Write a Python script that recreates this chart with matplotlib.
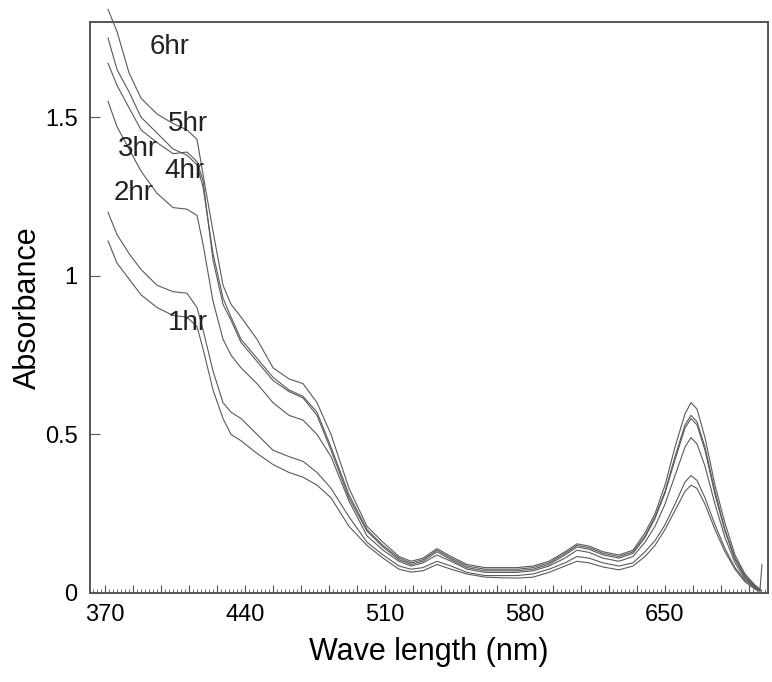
import numpy as np
import matplotlib
matplotlib.use('Agg')
import matplotlib.pyplot as plt
from matplotlib.ticker import FixedLocator, FuncFormatter

plt.rcParams['font.family'] = ['Liberation Sans', 'DejaVu Sans']

# wavelength grid (nm)
wl = [371.5, 376, 382, 388, 396, 404, 411, 416, 419, 424,
      429, 433, 438, 446, 454, 462, 469, 476, 483, 492,
      501, 509, 517, 523, 529, 536, 543, 551, 560, 568,
      576, 584, 592, 600, 606, 612, 619, 627, 634, 640,
      645, 650, 655, 660, 663, 666, 670, 675, 680, 685,
      690, 695, 697.5]

abs_6hr = [1.84, 1.77, 1.64, 1.56, 1.51, 1.48, 1.46, 1.43, 1.32, 1.14,
           0.97, 0.91, 0.87, 0.80, 0.71, 0.675, 0.66, 0.60, 0.50, 0.33,
           0.21, 0.16, 0.115, 0.10, 0.11, 0.14, 0.115, 0.09, 0.08, 0.08,
           0.08, 0.085, 0.10, 0.13, 0.155, 0.148, 0.13, 0.12, 0.135, 0.19,
           0.25, 0.34, 0.46, 0.565, 0.60, 0.58, 0.49, 0.34, 0.22, 0.12,
           0.06, 0.025, 0.012]
abs_5hr = [1.75, 1.65, 1.58, 1.50, 1.45, 1.40, 1.38, 1.35, 1.28, 1.07,
           0.93, 0.87, 0.80, 0.74, 0.68, 0.64, 0.62, 0.57, 0.46, 0.31,
           0.20, 0.15, 0.11, 0.095, 0.105, 0.135, 0.11, 0.085, 0.075, 0.075,
           0.075, 0.08, 0.095, 0.125, 0.15, 0.143, 0.125, 0.115, 0.13, 0.18,
           0.24, 0.32, 0.43, 0.53, 0.56, 0.54, 0.46, 0.32, 0.20, 0.11,
           0.055, 0.022, 0.01]
abs_4hr = [1.67, 1.60, 1.53, 1.46, 1.42, 1.385, 1.39, 1.36, 1.30, 1.05,
           0.91, 0.86, 0.79, 0.73, 0.67, 0.635, 0.615, 0.56, 0.45, 0.30,
           0.195, 0.145, 0.105, 0.09, 0.10, 0.13, 0.105, 0.08, 0.07, 0.07,
           0.07, 0.075, 0.09, 0.12, 0.145, 0.138, 0.12, 0.11, 0.125, 0.175,
           0.235, 0.315, 0.42, 0.52, 0.55, 0.53, 0.45, 0.31, 0.195, 0.105,
           0.05, 0.02, 0.01]
abs_3hr = [1.55, 1.47, 1.40, 1.33, 1.26, 1.215, 1.21, 1.19, 1.10, 0.92,
           0.80, 0.75, 0.71, 0.66, 0.60, 0.56, 0.545, 0.50, 0.43, 0.29,
           0.18, 0.135, 0.10, 0.085, 0.095, 0.12, 0.10, 0.075, 0.065, 0.065,
           0.065, 0.07, 0.085, 0.11, 0.135, 0.128, 0.11, 0.10, 0.115, 0.16,
           0.21, 0.28, 0.37, 0.46, 0.49, 0.47, 0.40, 0.28, 0.175, 0.095,
           0.045, 0.018, 0.008]
abs_2hr = [1.20, 1.13, 1.07, 1.02, 0.97, 0.95, 0.945, 0.90, 0.83, 0.70,
           0.60, 0.57, 0.55, 0.50, 0.45, 0.43, 0.415, 0.38, 0.33, 0.24,
           0.16, 0.12, 0.085, 0.075, 0.08, 0.10, 0.085, 0.065, 0.055, 0.055,
           0.055, 0.06, 0.075, 0.095, 0.115, 0.11, 0.095, 0.085, 0.095, 0.13,
           0.165, 0.215, 0.28, 0.35, 0.37, 0.355, 0.30, 0.215, 0.14, 0.08,
           0.04, 0.015, 0.008]
abs_1hr = [1.11, 1.04, 0.99, 0.94, 0.90, 0.875, 0.87, 0.84, 0.77, 0.64,
           0.55, 0.50, 0.48, 0.44, 0.405, 0.38, 0.365, 0.34, 0.30, 0.21,
           0.15, 0.11, 0.075, 0.066, 0.07, 0.09, 0.075, 0.06, 0.05, 0.048,
           0.047, 0.05, 0.065, 0.085, 0.10, 0.095, 0.082, 0.073, 0.085, 0.115,
           0.15, 0.20, 0.26, 0.32, 0.34, 0.33, 0.28, 0.20, 0.13, 0.075,
           0.035, 0.012, 0.005]

# small glitch at the end of one scan
tail_wl = [697.5, 698.5]
tail_abs = [0.01, 0.09]

series = [abs_1hr, abs_2hr, abs_3hr, abs_4hr, abs_5hr, abs_6hr]

labels = ['6hr', '5hr', '3hr', '4hr', '2hr', '1hr']
label_x = [402.5, 411.5, 386.5, 409.5, 384.5, 411.5]
label_y = [1.72, 1.48, 1.40, 1.33, 1.26, 0.85]

fig = plt.figure(figsize=(7.72, 6.82), dpi=100)
ax = fig.add_axes([0.1166, 0.1305, 0.8782, 0.8372])

for s in series:
    ax.plot(wl, s, color='#5a5a5a', lw=0.8, clip_on=False)
ax.plot(tail_wl, tail_abs, color='#5a5a5a', lw=0.8, clip_on=False)

for t, x, y in zip(labels, label_x, label_y):
    ax.text(x, y, t, fontsize=20, ha='center', va='center', color='#222222')

ax.set_xlim(362.5, 701.5)
ax.set_ylim(0, 1.8)

ax.xaxis.set_major_locator(FixedLocator(np.arange(370, 700, 14)))
ax.xaxis.set_minor_locator(FixedLocator(np.arange(364, 702, 2)))
ax.xaxis.set_major_formatter(FuncFormatter(
    lambda v, p: '%d' % v if (round(v) - 370) % 70 == 0 else ''))
ax.set_yticks([0, 0.5, 1, 1.5])
ax.set_yticklabels(['0', '0.5', '1', '1.5'])

ax.tick_params(axis='x', which='major', direction='in', length=6, width=0.8,
               labelsize=17, pad=8, color='#555555')
ax.tick_params(axis='x', which='minor', direction='in', length=3, width=0.6,
               color='#555555')
ax.tick_params(axis='y', which='major', direction='in', length=7, width=0.8,
               labelsize=17, pad=9, color='#555555')

for sp in ax.spines.values():
    sp.set_color('#555555')
    sp.set_linewidth(1.4)

ax.set_xlabel('Wave length (nm)', fontsize=22, labelpad=8)
ax.set_ylabel('Absorbance', fontsize=22, labelpad=1)

fig.savefig('out.png', dpi=100)
